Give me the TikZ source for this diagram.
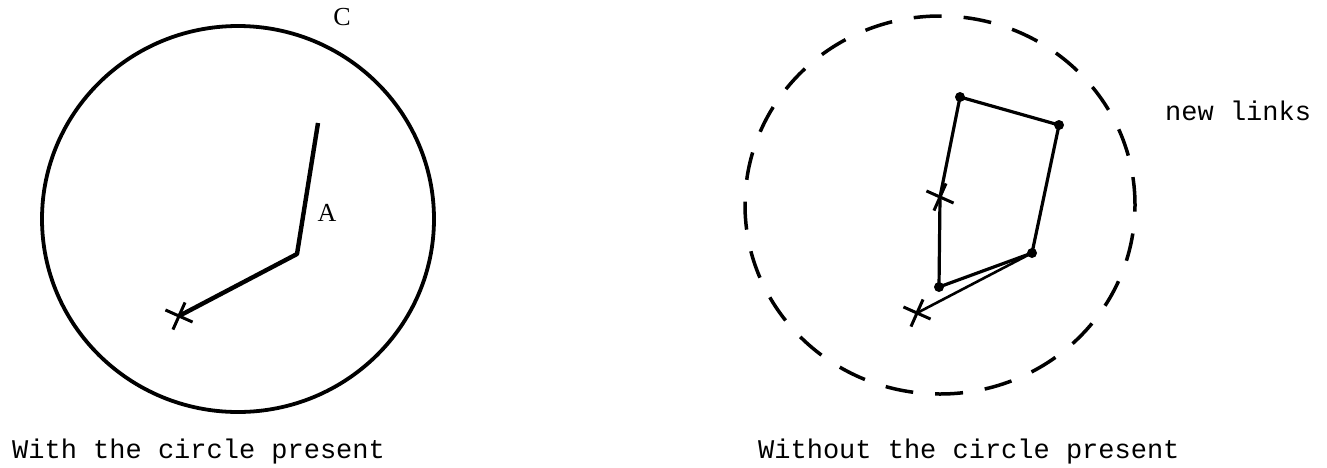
\documentclass[tikz,border=0pt]{standalone}
\usepackage{fontspec}
\setmainfont{Liberation Serif}
\newfontfamily\typefont{Liberation Mono}
\usetikzlibrary{shapes.geometric,shapes.misc}

\begin{document}
\begin{tikzpicture}[x=1pt,y=-1pt,
  xmark/.style={cross out,draw,minimum size=18pt,line width=3pt,rotate=21,inner sep=0pt},
  vdot/.style={circle,fill,inner sep=0pt,minimum size=10pt},
  link/.style={line width=3.2pt,line join=round},
  caption/.style={font=\typefont\fontsize{27}{30}\selectfont,anchor=base west,inner sep=0pt},
  lbl/.style={font=\fontsize{26}{28}\selectfont,inner sep=0pt}
]
  \useasboundingbox (0,0) rectangle (1327,467);
  % With the circle
  \node[ellipse,draw,line width=3.8pt,minimum width=392pt,minimum height=386pt] (circ) at (238,219) {};
  \node[lbl] (lblC) at (342,17) {C};
  \coordinate (tip) at (318,123);
  \coordinate (bend) at (297,254);
  \node[xmark] (root) at (179,316) {};
  \draw[line width=4.4pt,line join=round] (tip) -- (bend) -- (root.center);
  \node[lbl] (lblA) at (327,213) {A};

  % Without the circle
  \node[ellipse,draw,line width=3.5pt,dash pattern=on 28pt off 22pt,minimum width=390pt,minimum height=378pt] (ring) at (940,205) {};
  \node[vdot] (p1) at (960,97) {};
  \node[vdot] (p2) at (1059,125) {};
  \node[vdot] (p3) at (1032,253) {};
  \node[vdot] (p4) at (939,287) {};
  \node[xmark] (mid) at (940,197) {};
  \node[xmark] (low) at (917,313) {};
  \draw[link] (p1.center) -- (p2.center) -- (p3.center) -- (p4.center) -- (mid.center) -- (p1.center);
  \draw[line width=2.6pt] (low.center) -- (p3.center);
  \node[caption] (newlk) at (1165,120) {new links};

  % Captions
  \node[caption] (capL) at (12,458) {With the circle present};
  \node[caption] (capR) at (758,458) {Without the circle present};
\end{tikzpicture}
\end{document}
